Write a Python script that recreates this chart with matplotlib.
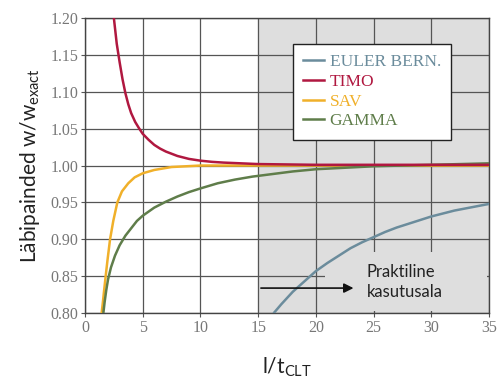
import numpy as np
import matplotlib
matplotlib.use('Agg')
import matplotlib.pyplot as plt
from matplotlib.patches import Rectangle

plt.rcParams['mathtext.fontset'] = 'custom'
plt.rcParams['mathtext.rm'] = 'Lato'

# values
euler_x = [16.4, 17, 18, 19, 20, 21, 22, 23, 24, 25, 26, 27, 28, 29, 30, 31, 32, 33, 34, 35]
euler_y = [0.801, 0.812, 0.829, 0.843, 0.857, 0.868, 0.878, 0.888, 0.896, 0.903, 0.910, 0.916,
           0.921, 0.926, 0.931, 0.935, 0.939, 0.942, 0.945, 0.948]

timo_x = [2.5, 2.75, 3.0, 3.25, 3.5, 3.75, 4.0, 4.35, 4.7, 5.0, 5.5, 6.0, 6.5, 7.0, 8.0, 9.0,
          10.0, 11.0, 12.0, 13.5, 15.0, 17.5, 20.0, 35.0]
timo_y = [1.200, 1.165, 1.140, 1.117, 1.098, 1.083, 1.071, 1.059, 1.050, 1.043, 1.035, 1.028,
          1.023, 1.019, 1.013, 1.009, 1.0066, 1.005, 1.004, 1.003, 1.002, 1.0015, 1.001, 1.001]

sav_x = [1.44, 1.55, 1.65, 1.79, 1.95, 2.17, 2.45, 2.8, 3.2, 3.75, 4.3, 5.0, 6.0, 7.5, 10.0, 35.0]
sav_y = [0.800, 0.815, 0.830, 0.850, 0.872, 0.900, 0.925, 0.950, 0.965, 0.976, 0.984, 0.9895,
         0.994, 0.998, 1.000, 1.000]

gamma_x = [1.59, 1.7, 1.85, 2.0, 2.25, 2.6, 3.0, 3.5, 4.0, 4.5, 5.0, 6.0, 7.0, 8.0, 9.0, 10.0,
           11.5, 13.0, 14.5, 16.0, 18.0, 20.0, 22.5, 25.0, 30.0, 35.0]
gamma_y = [0.800, 0.815, 0.832, 0.846, 0.862, 0.878, 0.892, 0.905, 0.915, 0.925, 0.932, 0.943,
           0.951, 0.958, 0.964, 0.969, 0.976, 0.981, 0.985, 0.988, 0.992, 0.995, 0.997, 0.999,
           1.001, 1.003]

labels = ['EULER BERN.', 'TIMO', 'SAV', 'GAMMA']
colors = ['#6b8c9c', '#b01840', '#f0b02a', '#5f7d4a']
shade = '#dedede'

fig = plt.figure(figsize=(5, 3.81), dpi=100)
ax = fig.add_axes([0.17, 0.178, 0.808, 0.775])

ax.axvspan(15, 35, color=shade, zorder=0)
ax.set_xlim(0, 35)
ax.set_ylim(0.80, 1.20)
ax.set_xticks(np.arange(0, 36, 5))
yt = np.arange(0.80, 1.201, 0.05)
ax.set_yticks(yt)
ax.set_yticklabels(['%.2f' % v for v in yt])
ax.grid(True, color='#555555', lw=0.9, zorder=1)
ax.set_axisbelow(True)
for s in ax.spines.values():
    s.set_color('#444444')
    s.set_linewidth(1.0)
ax.tick_params(length=3, width=0.8, color='#555555', labelcolor='#777777', labelsize=11.5, pad=2)
for lab in ax.get_xticklabels() + ax.get_yticklabels():
    lab.set_family('Liberation Serif')

# grey box behind the note
ax.add_patch(Rectangle((20.8, 0.803), 14.0, 0.049, facecolor=shade, edgecolor='none', zorder=1.5))
ax.add_patch(Rectangle((23.6, 0.803), 11.2, 0.080, facecolor=shade, edgecolor='none', zorder=1.5))

ax.plot(euler_x, euler_y, color=colors[0], lw=1.8, label=labels[0], zorder=3)
ax.plot(timo_x, timo_y, color=colors[1], lw=1.8, label=labels[1], zorder=4)
ax.plot(sav_x, sav_y, color=colors[2], lw=1.8, label=labels[2], zorder=3)
ax.plot(gamma_x, gamma_y, color=colors[3], lw=1.8, label=labels[3], zorder=3)

ax.annotate('', xy=(23.5, 0.834), xytext=(15.0, 0.834),
            arrowprops=dict(arrowstyle='-|>', color='#111111', lw=1.2, mutation_scale=14), zorder=5)
ax.text(24.4, 0.8424, 'Praktiline\nkasutusala', fontsize=12, family='Lato',
        color='#222222', va='center', ha='left', linespacing=1.25, zorder=5)

leg = ax.legend(loc='upper left', bbox_to_anchor=(0.515, 0.912),
                prop={'family': 'Liberation Serif', 'size': 12.5},
                handlelength=1.2, handletextpad=0.3, labelspacing=0.2, borderpad=0.6,
                fancybox=False, framealpha=1, edgecolor='#222222', borderaxespad=0)
leg.get_frame().set_linewidth(1.0)
for t, c in zip(leg.get_texts(), colors):
    t.set_color(c)
leg.set_zorder(6)

ax.set_ylabel('Läbipainded w/w$_{\\rm exact}$', fontsize=15, family='Lato', color='#222222', labelpad=6)
ax.set_xlabel('l/t$_{\\rm CLT}$', fontsize=15, family='Lato', color='#222222', labelpad=14)

fig.savefig('out.png', dpi=100)
